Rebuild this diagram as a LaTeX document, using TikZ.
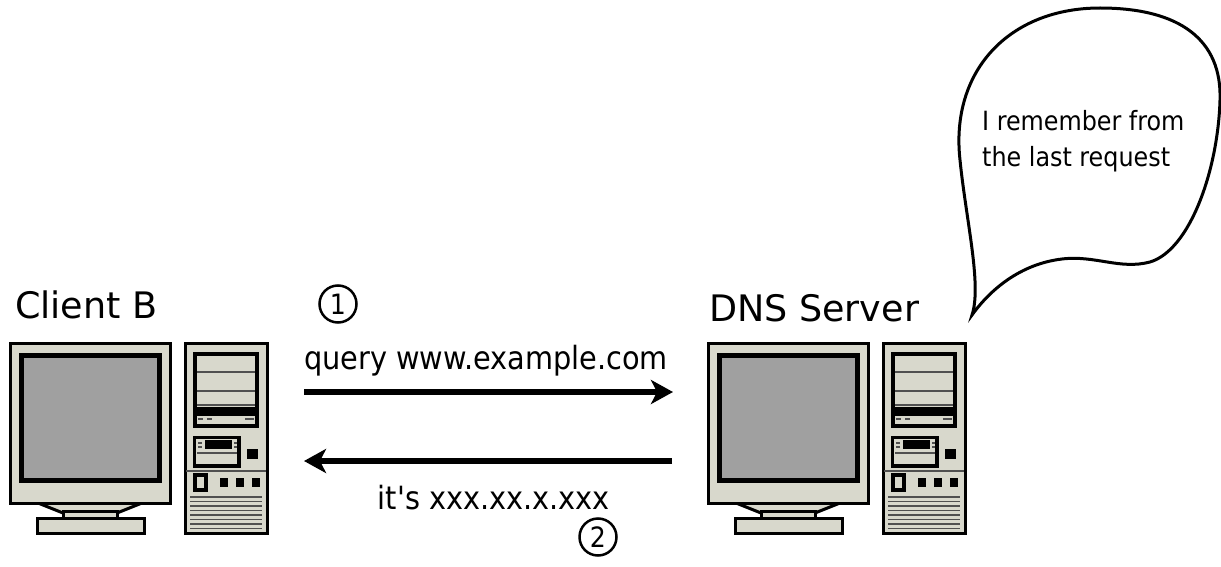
\documentclass[tikz,border=0pt]{standalone}
\usepackage{fontspec}
\setmainfont{DejaVu Sans}
\newfontfamily\narrowfont{DejaVu Sans Condensed}
\usetikzlibrary{arrows.meta}

\definecolor{case}{RGB}{216,216,204}
\definecolor{screen}{RGB}{160,160,160}
\definecolor{trim}{RGB}{80,80,80}

\tikzset{
  casepart/.style={fill=case, draw=black, line width=3pt},
  bezel/.style={fill=screen, draw=black, line width=5pt},
  trimline/.style={draw=trim, line width=1.6pt},
  knob/.style={fill=black, draw=none},
  flow/.style={line width=6pt, -{Stealth[length=22pt, width=24pt, inset=6pt]}},
  caption/.style={font=\fontsize{36.5}{44}\selectfont, inner sep=0pt},
  msg/.style={font=\narrowfont\fontsize{32}{38}\selectfont, inner sep=0pt},
  stepnum/.style={circle, draw=black, line width=2.5pt, minimum size=37pt,
                  inner sep=0pt, font=\narrowfont\fontsize{28}{30}\selectfont},
  thought/.style={font=\narrowfont\fontsize{26.5}{36}\selectfont, inner sep=0pt},
  % desktop computer: monitor on a stand plus a tower case
  computer/.pic={
    % monitor
    \path[casepart] (38,503) -- (142,503) -- (117,513) -- (63,513) -- cycle;
    \path[casepart] (63,511) rectangle (117,519);
    \path[casepart] (37,518) rectangle (144,533);
    \path[casepart] (10,343) rectangle (170,503);
    \path[bezel] (21.5,355.5) rectangle (159.5,480.5);
    % tower
    \path[casepart] (185,343) rectangle (267,533);
    \path[fill=case, draw=black, line width=4.5pt] (195,354) rectangle (257,426);
    \draw[trimline] (197,372) -- (255,372);
    \draw[trimline] (197,391) -- (255,391);
    \draw[trimline] (197,405) -- (255,405);
    \fill[black] (197,407) rectangle (255,416);
    \draw[trimline] (198,419) -- (203,419) (207,419) -- (212,419) (245,419) -- (254,419);
    \path[fill=case, draw=black, line width=3.5pt] (194.5,437.5) rectangle (239,466);
    \fill[black] (205,440) rectangle (232,449);
    \draw[trimline] (197,453) -- (237,453);
    \draw[trimline] (198,443) -- (202,443) (198,447) -- (202,447)
                    (234,443) -- (237,443) (234,447) -- (237,447);
    \path[knob] (247,449) rectangle (258,459);
    \draw[trimline] (186,471) -- (266,471);
    \path[fill=case, draw=black, line width=3.5pt] (195,475) rectangle (206,490);
    \path[knob] (220,478) rectangle (228,487);
    \path[knob] (236,478) rectangle (244,487);
    \path[knob] (252,478) rectangle (260,487);
    \foreach \v in {497,501.5,506,510.5,515,519.5,524,528.5}
      \draw[trim, line width=1.3pt] (190,\v) -- (262,\v);
  }
}

\begin{document}
\begin{tikzpicture}[x=1pt, y=-1pt]
  \useasboundingbox[fill=white] (0,0) rectangle (1221,567);

  % the two machines
  \pic (client) at (0,0) {computer};
  \pic (server) at (698,0) {computer};

  \node[caption, anchor=base west] (clientlbl) at (15,318) {Client B};
  \node[caption, anchor=base west] (serverlbl) at (709,321) {DNS Server};

  % request and answer
  \coordinate (reqfrom) at (304,392);
  \coordinate (reqto)   at (673,392);
  \coordinate (ansfrom) at (672,461);
  \coordinate (ansto)   at (304,461);
  \draw[flow] (reqfrom) -- (reqto);
  \draw[flow] (ansfrom) -- (ansto);

  \node[msg, anchor=base] (reqlbl) at (486,369) {query www.example.com};
  \node[msg, anchor=base] (anslbl) at (494,509) {it's xxx.xx.x.xxx};

  \node[stepnum] (one) at (338,304) {1};
  \node[stepnum] (two) at (598,537) {2};

  % speech bubble of the server
  \draw[line width=3pt, fill=white]
    (972,315) .. controls (982,285) and (966,220) .. (960,160)
    .. controls (950,70) and (1010,8) .. (1100,8)
    .. controls (1180,8) and (1222,40) .. (1220,100)
    .. controls (1218,170) and (1190,250) .. (1150,262)
    .. controls (1120,270) and (1095,255) .. (1062,259)
    .. controls (1020,264) and (990,290) .. (972,315) -- cycle;
  \node[thought, anchor=base west] (think1) at (982,131) {I remember from};
  \node[thought, anchor=base west] (think2) at (982,167) {the last request};
\end{tikzpicture}
\end{document}
